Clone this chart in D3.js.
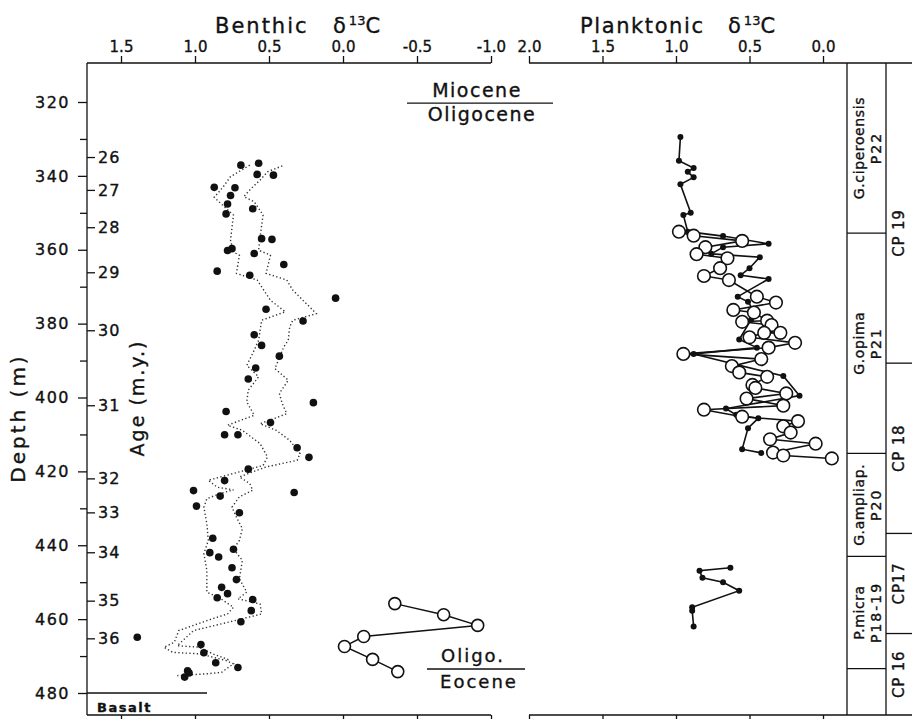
<!DOCTYPE html>
<html>
<head>
<meta charset="utf-8">
<script src="https://cdn.jsdelivr.net/npm/d3@7"></script>
<style>
  body { margin: 0; background: #fff; }
  text { font-family: "DejaVu Sans", sans-serif; fill: #111; stroke: #111; stroke-width: 0.35px; }
</style>
</head>
<body>
<div id="chart"></div>
<script>
// ---- data ----
var depthTicks = [320, 340, 360, 380, 400, 420, 440, 460, 480];
var depthMinor = [330, 350, 370, 390, 410, 430, 450, 470];
var ageLabels = [26, 27, 28, 29, 30, 31, 32, 33, 34, 35, 36];
var ageDepths = [334.9, 343.8, 353.9, 366.1, 381.8, 402.1, 421.9, 431.1, 441.9, 455.0, 465.2];
var benthicTicks = [1.5, 1.0, 0.5, 0.0, -0.5, -1.0];
var planktonicTicks = [2.0, 1.5, 1.0, 0.5, 0.0];

// benthic d13C, closed dots
var benthicDepth = [336.6, 337.1, 339.6, 339.8, 343.1, 343.2, 345.3, 347.6, 348.9, 350.3,
  357.0, 357.2, 359.7, 360.2, 361.0, 364.0, 365.8, 366.9, 373.1, 376.1,
  379.3, 383.0, 385.9, 388.8, 392.0, 395.0, 401.4, 403.8, 406.8, 410.1,
  410.1, 413.6, 416.2, 419.4, 422.5, 425.2, 425.7, 426.7, 429.4, 431.2,
  438.1, 441.1, 442.0, 443.2, 446.1, 449.3, 451.4, 453.1, 454.2, 454.7,
  457.7, 460.7, 464.9, 466.9, 469.1, 471.8, 473.1, 474.0, 474.6, 475.7];
var benthicValue = [0.57, 0.69, 0.58, 0.47, 0.87, 0.73, 0.76, 0.78, 0.61, 0.79,
  0.55, 0.48, 0.75, 0.78, 0.60, 0.40, 0.85, 0.63, 0.05, 0.52,
  0.27, 0.60, 0.55, 0.43, 0.59, 0.64, 0.20, 0.79, 0.49, 0.80,
  0.71, 0.31, 0.23, 0.64, 0.80, 1.01, 0.33, 0.83, 0.99, 0.70,
  0.88, 0.74, 0.90, 0.84, 0.75, 0.72, 0.82, 0.78, 0.85, 0.61,
  0.62, 0.69, 1.39, 0.96, 0.94, 0.86, 0.71, 1.05, 1.04, 1.07];

// dotted curves (left and right)
var leftCurveDepth = [337.1, 340.2, 343.0, 345.8, 348.8, 350.6, 357.4, 360.6, 361.5, 366.4,
  368.2, 373.7, 376.8, 379.1, 384.5, 387.2, 391.3, 394.4, 398.0, 401.2,
  404.8, 407.5, 408.9, 412.5, 416.1, 418.4, 419.7, 422.4, 424.3, 425.0,
  426.0, 427.4, 429.7, 434.2, 438.7, 442.3, 446.8, 452.7, 454.1, 456.8,
  458.6, 460.4, 463.1, 466.3, 467.6, 469.0, 469.4, 471.2, 472.1, 474.4,
  474.8, 475.3];
var leftCurveValue = [0.63, 0.76, 0.81, 0.87, 0.79, 0.74, 0.76, 0.74, 0.70, 0.72,
  0.58, 0.49, 0.39, 0.55, 0.57, 0.60, 0.65, 0.57, 0.64, 0.65,
  0.60, 0.78, 0.68, 0.56, 0.51, 0.54, 0.66, 0.91, 0.85, 0.74,
  0.83, 0.92, 0.94, 0.92, 0.91, 0.94, 0.92, 0.92, 0.84, 0.74,
  0.78, 0.92, 1.11, 1.14, 1.21, 1.15, 0.97, 0.79, 0.74, 0.82,
  0.92, 1.12];
var rightCurveDepth = [337.3, 338.9, 341.1, 343.8, 345.6, 347.0, 350.6, 356.5, 360.1, 361.5,
  366.4, 368.2, 370.9, 377.3, 379.1, 380.9, 384.5, 386.3, 392.2, 395.3,
  398.9, 401.7, 404.4, 407.1, 408.9, 411.6, 415.2, 417.0, 418.8, 421.5,
  423.3, 425.1, 426.9, 429.7, 432.4, 435.5, 438.7, 441.0, 444.1, 449.1,
  452.7, 454.5, 455.9, 458.6, 460.4, 463.1, 467.2, 467.6, 469.4, 471.2];
var rightCurveValue = [0.41, 0.51, 0.56, 0.63, 0.67, 0.60, 0.54, 0.56, 0.57, 0.49,
  0.52, 0.38, 0.34, 0.18, 0.34, 0.36, 0.37, 0.40, 0.46, 0.37,
  0.43, 0.41, 0.38, 0.56, 0.45, 0.36, 0.29, 0.31, 0.52, 0.70,
  0.63, 0.61, 0.70, 0.75, 0.72, 0.68, 0.70, 0.74, 0.68, 0.70,
  0.65, 0.71, 0.56, 0.55, 0.73, 1.01, 1.12, 0.97, 0.88, 0.76];

// benthic open circles near base
var benthicOpenDepth = [455.8, 458.8, 461.7, 464.7, 467.4, 470.9, 474.2];
var benthicOpenValue = [-0.35, -0.68, -0.91, -0.14, -0.01, -0.20, -0.37];

// planktonic d13C, small filled dots
var plankFilledDepth = [329.5, 335.9, 337.9, 338.9, 340.4, 342.3, 350.0, 350.6, 355.1, 356.3,
  358.4, 359.3, 361.1, 362.0, 365.0, 366.9, 367.9, 372.7, 374.1, 377.2,
  379.0, 384.3, 386.5, 388.2, 394.2, 399.5, 403.0, 404.7, 405.6, 408.3,
  414.0, 415.0];
var plankFilledValue = [0.97, 0.98, 0.88, 0.92, 0.88, 0.97, 0.90, 0.95, 0.92, 0.68,
  0.37, 0.68, 0.76, 0.43, 0.50, 0.56, 0.37, 0.58, 0.51, 0.46,
  0.49, 0.57, 0.45, 0.88, 0.27, 0.16, 0.66, 0.59, 0.44, 0.51,
  0.55, 0.42];
var plankLowDepth = [446.1, 446.9, 448.8, 450.0, 452.3, 456.8, 457.7, 462.0];
var plankLowValue = [0.63, 0.84, 0.82, 0.68, 0.57, 0.89, 0.89, 0.88];

// planktonic d13C, open circles
var plankOpenDepth = [355.1, 356.2, 357.6, 359.3, 361.2, 362.3, 365.0, 367.1, 368.2, 372.7,
  374.3, 376.3, 377.0, 379.2, 379.5, 380.4, 382.5, 382.5, 383.7, 385.2,
  386.5, 388.2, 389.6, 391.5, 393.2, 394.4, 396.6, 397.4, 398.9, 400.3,
  402.2, 403.3, 405.2, 406.4, 407.8, 409.5, 411.3, 412.5, 414.9, 415.7,
  416.5];
var plankOpenValue = [0.98, 0.88, 0.55, 0.80, 0.86, 0.65, 0.70, 0.81, 0.64, 0.45,
  0.32, 0.61, 0.47, 0.38, 0.55, 0.35, 0.29, 0.40, 0.50, 0.19,
  0.37, 0.95, 0.42, 0.62, 0.57, 0.38, 0.48, 0.46, 0.25, 0.52,
  0.27, 0.81, 0.55, 0.17, 0.27, 0.22, 0.36, 0.05, 0.34, 0.27,
  -0.06];

// zones
var forZones = [["G.ciperoensis", "P22"], ["G.opima", "P21"], ["G.ampliap.", "P20"], ["P.micra", "P18-19"], ["", ""]];
var forBounds = [355.5, 415.1, 443.0, 473.4];
var cpZones = ["CP 19", "CP 18", "CP17", "CP 16"];
var cpBounds = [390.7, 436.8, 463.9];
var epochDepths = [320.3, 473.5];

// ---- layout ----
var W = 912, H = 719;
var frameTop = 63, frameBottom = 715, frameLeft = 87;
var zoneX1 = 847, zoneX2 = 886;

var svg = d3.select("#chart")
    .append("svg")
    .attr("width", W)
    .attr("height", H);

var y = d3.scaleLinear().domain([320, 480]).range([102, 693]);
var xB = d3.scaleLinear().domain([1.5, -1.0]).range([121, 491]);
var xP = d3.scaleLinear().domain([2.0, 0.0]).range([529, 823]);
var fmt = function(d) { return d.toFixed(1); };

function line(x1, y1, x2, y2, w) {
  svg.append("line").attr("x1", x1).attr("y1", y1).attr("x2", x2).attr("y2", y2)
    .attr("stroke", "#111").attr("stroke-width", w || 1.3);
}

// frame lines
line(frameLeft, frameTop, xB(-1.0), frameTop);
line(xP(2.0), frameTop, W, frameTop);
line(frameLeft, frameBottom, xB(-1.0), frameBottom);
line(xP(2.0), frameBottom, W, frameBottom);
line(frameLeft, frameTop, frameLeft, frameBottom);
line(zoneX1, frameTop, zoneX1, frameBottom);
line(zoneX2, frameTop, zoneX2, frameBottom);

// top axes
function styleAxis(g) {
  g.select(".domain").remove();
  g.selectAll(".tick line").attr("stroke", "#111").attr("stroke-width", 1.3);
  g.selectAll("text").attr("fill", "#111");
}
svg.append("g")
  .attr("transform", "translate(0," + frameTop + ")")
  .call(d3.axisTop(xB).tickValues(benthicTicks).tickFormat(fmt).tickSize(7).tickPadding(4))
  .call(styleAxis)
  .selectAll("text").style("font-size", "15px").style("font-family", "DejaVu Sans");
svg.append("g")
  .attr("transform", "translate(0," + frameTop + ")")
  .call(d3.axisTop(xP).tickValues(planktonicTicks).tickFormat(fmt).tickSize(7).tickPadding(4))
  .call(styleAxis)
  .selectAll("text").style("font-size", "15px").style("font-family", "DejaVu Sans");

// bottom ticks
svg.append("g")
  .attr("transform", "translate(0," + frameBottom + ")")
  .call(d3.axisBottom(xB).tickValues(benthicTicks).tickFormat("").tickSize(4))
  .call(styleAxis);
svg.append("g")
  .attr("transform", "translate(0," + frameBottom + ")")
  .call(d3.axisBottom(xP).tickValues(planktonicTicks).tickFormat("").tickSize(4))
  .call(styleAxis);

// depth axis
svg.append("g")
  .attr("transform", "translate(" + frameLeft + ",0)")
  .call(d3.axisLeft(y).tickValues(depthTicks).tickSize(9).tickPadding(8))
  .call(styleAxis)
  .selectAll("text").style("font-size", "16px").style("letter-spacing", "1.5px")
  .style("font-family", "DejaVu Sans");
svg.append("g")
  .attr("transform", "translate(" + frameLeft + ",0)")
  .call(d3.axisLeft(y).tickValues(depthMinor).tickFormat("").tickSize(7))
  .call(styleAxis);

// age axis
svg.append("g")
  .attr("transform", "translate(" + frameLeft + ",0)")
  .call(d3.axisRight(y).tickValues(ageDepths)
    .tickFormat(function(d, i) { return ageLabels[i]; }).tickSize(8).tickPadding(3))
  .call(styleAxis)
  .selectAll("text").style("font-size", "16px").style("letter-spacing", "1px")
  .style("font-family", "DejaVu Sans");

// axis titles
svg.append("text").attr("x", 215).attr("y", 33).style("font-size", "21px")
  .style("letter-spacing", "2px").text("Benthic");
svg.append("text").attr("x", 580).attr("y", 33).style("font-size", "21px")
  .style("letter-spacing", "1.6px").text("Planktonic");
[333, 728].forEach(function(x0) {
  var t = svg.append("text").attr("x", x0).attr("y", 33).style("font-size", "21px");
  t.append("tspan").text("δ");
  t.append("tspan").attr("dx", 3).attr("dy", -8).style("font-size", "13px").text("13");
  t.append("tspan").attr("dy", 8).style("font-size", "21px").text("C");
});
svg.append("text")
  .attr("transform", "translate(25,418) rotate(-90)")
  .attr("text-anchor", "middle").style("font-size", "20px").style("letter-spacing", "3px")
  .text("Depth (m)");
svg.append("text")
  .attr("transform", "translate(144,398) rotate(-90)")
  .attr("text-anchor", "middle").style("font-size", "19px").style("letter-spacing", "2px")
  .text("Age (m.y.)");

// epoch boundaries
line(407, y(epochDepths[0]), 553, y(epochDepths[0]), 1.3);
svg.append("text").attr("x", 477).attr("y", y(epochDepths[0]) - 6).attr("text-anchor", "middle")
  .style("font-size", "19px").style("letter-spacing", "1.5px").text("Miocene");
svg.append("text").attr("x", 482).attr("y", y(epochDepths[0]) + 18).attr("text-anchor", "middle")
  .style("font-size", "19px").style("letter-spacing", "1.5px").text("Oligocene");
line(427, y(epochDepths[1]), 525, y(epochDepths[1]), 1.3);
svg.append("text").attr("x", 473).attr("y", y(epochDepths[1]) - 7).attr("text-anchor", "middle")
  .style("font-size", "18px").style("letter-spacing", "2px").text("Oligo.");
svg.append("text").attr("x", 479).attr("y", y(epochDepths[1]) + 19).attr("text-anchor", "middle")
  .style("font-size", "18px").style("letter-spacing", "2px").text("Eocene");

// basalt
line(frameLeft, y(480), 207, y(480), 1.3);
svg.append("text").attr("x", 97).attr("y", 712).style("font-size", "13px")
  .style("font-weight", "bold").style("letter-spacing", "1.5px").text("Basalt");

// benthic dotted curves
var lineB = d3.line().x(function(d) { return xB(d[1]); }).y(function(d) { return y(d[0]); });
[d3.zip(leftCurveDepth, leftCurveValue), d3.zip(rightCurveDepth, rightCurveValue)].forEach(function(c) {
  svg.append("path").datum(c).attr("d", lineB).attr("fill", "none")
    .attr("stroke", "#333").attr("stroke-width", 1.4).attr("stroke-dasharray", "1.3,2.4");
});

// benthic dots
svg.selectAll("circle.bdot")
  .data(d3.zip(benthicDepth, benthicValue))
  .enter().append("circle").attr("class", "bdot")
  .attr("cx", function(d) { return xB(d[1]); })
  .attr("cy", function(d) { return y(d[0]); })
  .attr("r", 3.8).attr("fill", "#111");

// benthic open circles
var bOpen = d3.zip(benthicOpenDepth, benthicOpenValue);
svg.append("path").datum(bOpen).attr("d", lineB).attr("fill", "none")
  .attr("stroke", "#111").attr("stroke-width", 1.5);
svg.selectAll("circle.bopen")
  .data(bOpen)
  .enter().append("circle").attr("class", "bopen")
  .attr("cx", function(d) { return xB(d[1]); })
  .attr("cy", function(d) { return y(d[0]); })
  .attr("r", 6).attr("fill", "#fff").attr("stroke", "#111").attr("stroke-width", 1.6);

// planktonic
var lineP = d3.line().x(function(d) { return xP(d[1]); }).y(function(d) { return y(d[0]); });
var pFilled = d3.zip(plankFilledDepth, plankFilledValue);
var pLow = d3.zip(plankLowDepth, plankLowValue);
var pOpen = d3.zip(plankOpenDepth, plankOpenValue);

[pFilled, pLow].forEach(function(s) {
  svg.append("path").datum(s).attr("d", lineP).attr("fill", "none")
    .attr("stroke", "#111").attr("stroke-width", 1.6);
});
svg.append("path").datum(pOpen).attr("d", lineP).attr("fill", "none")
  .attr("stroke", "#111").attr("stroke-width", 1.6);
svg.selectAll("circle.pdot")
  .data(pFilled.concat(pLow))
  .enter().append("circle").attr("class", "pdot")
  .attr("cx", function(d) { return xP(d[1]); })
  .attr("cy", function(d) { return y(d[0]); })
  .attr("r", 3).attr("fill", "#111");
svg.selectAll("circle.popen")
  .data(pOpen)
  .enter().append("circle").attr("class", "popen")
  .attr("cx", function(d) { return xP(d[1]); })
  .attr("cy", function(d) { return y(d[0]); })
  .attr("r", 6.3).attr("fill", "#fff").attr("stroke", "#111").attr("stroke-width", 1.6);

// zone columns
var forEdges = [frameTop].concat(forBounds.map(y)).concat([frameBottom]);
forBounds.forEach(function(d) { line(zoneX1, y(d), zoneX2, y(d)); });
forZones.forEach(function(z, i) {
  var yc = (forEdges[i] + forEdges[i + 1]) / 2;
  [[z[0], 864, "0.6px"], [z[1], 881, "2px"]].forEach(function(p) {
    svg.append("text")
      .attr("transform", "translate(" + p[1] + "," + yc + ") rotate(-90)")
      .attr("text-anchor", "middle").style("font-size", "14px").style("letter-spacing", p[2])
      .text(p[0]);
  });
});
var cpEdges = [frameTop].concat(cpBounds.map(y)).concat([frameBottom]);
cpBounds.forEach(function(d) { line(zoneX2, y(d), W, y(d)); });
cpZones.forEach(function(z, i) {
  var yc = (cpEdges[i] + cpEdges[i + 1]) / 2;
  if (i == 0) yc += 20;
  svg.append("text")
    .attr("transform", "translate(904," + yc + ") rotate(-90)")
    .attr("text-anchor", "middle").style("font-size", "15px").style("letter-spacing", "0.8px")
    .text(z);
});
</script>
</body>
</html>
